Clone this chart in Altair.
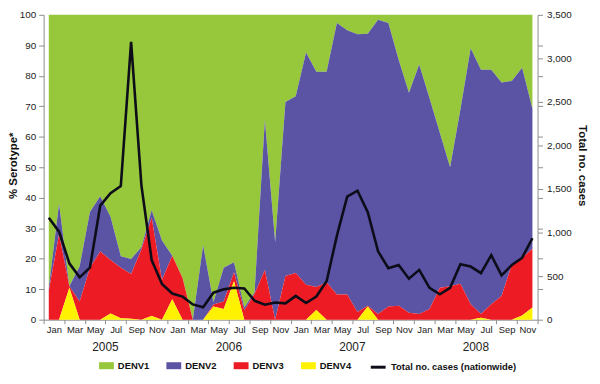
import altair as alt
import pandas as pd

months = ['Jan', 'Feb', 'Mar', 'Apr', 'May', 'Jun', 'Jul', 'Aug', 'Sep', 'Oct', 'Nov', 'Dec']
years = ['2005', '2006', '2007', '2008']
serotypes = ['DENV1', 'DENV2', 'DENV3', 'DENV4']
sero_colors = ['#97C83C', '#5B53A3', '#ED1C24', '#FFF200']
line_name = 'Total no. cases (nationwide)'

# % of serotyped samples per month, Jan 2005 .. Dec 2008
denv4 = [0, 0, 10.5, 0, 0, 0, 2, 0.5, 0.3, 0, 1.2, 0,
         6.7, 0, 0, 0, 4.3, 3.5, 12.6, 0, 0, 0, 0, 0,
         0, 0, 3.2, 0, 0, 0, 0, 4.3, 0, 0, 0, 0,
         0, 0, 0, 0, 0, 0, 0.6, 0, 0, 0, 1.4, 4]
denv3 = [9.5, 28, 0.5, 6, 17, 22.4, 17.6, 16.5, 14.7, 23, 32.2, 13,
         14.3, 13.7, 0, 0, 0.7, 2.5, 3, 3, 8.5, 16.3, 0, 14.3,
         15.3, 11.5, 7.5, 12.3, 8.3, 8.3, 2.5, 0.3, 1.9, 4.3, 4.6, 2.3,
         1.9, 3.5, 10.5, 11, 11.8, 5.1, 1.3, 5.1, 7.8, 18, 18.9, 19.3]
denv2 = [1, 10, 0, 11.5, 18.3, 18.1, 14.2, 3.8, 4.9, 0.8, 2.5, 13,
         0, 0, 0, 24.4, 0.7, 11, 3.2, 1, 0.5, 49.2, 25.4, 57.1,
         58, 76.1, 70.6, 69, 89, 86.6, 91.1, 89.2, 96.5, 93, 80.7, 72.1,
         81.8, 69.1, 50.8, 39, 57.1, 83.9, 80.1, 76.9, 70, 60.3, 62.3, 45.9]
denv1 = [89.5, 62, 89, 82.5, 64.7, 59.5, 66.2, 79.2, 80.1, 76.2, 64.1, 74,
         79, 86.3, 100, 75.6, 94.3, 83, 81.2, 96, 91, 34.5, 74.6, 28.6,
         26.7, 12.4, 18.7, 18.7, 2.7, 5.1, 6.4, 6.2, 1.6, 2.7, 14.7, 25.6,
         16.3, 27.4, 38.7, 50, 31.1, 11, 18, 18, 22.2, 21.7, 17.4, 30.8]
total_cases = [1170, 1010, 647, 486, 598, 1309, 1451, 1533, 3190, 1545, 684, 410,
               300, 265, 175, 142, 310, 348, 366, 359, 217, 172, 198, 187,
               273, 191, 266, 441, 965, 1413, 1481, 1234, 785, 591, 628, 471,
               572, 366, 292, 366, 636, 610, 535, 740, 509, 628, 711, 935]

series = {'DENV1': denv1, 'DENV2': denv2, 'DENV3': denv3, 'DENV4': denv4}
stack_rank = {'DENV4': 0, 'DENV3': 1, 'DENV2': 2, 'DENV1': 3}

rows = []
for name, vals in series.items():
    for i, v in enumerate(vals):
        rows.append({'t': i, 'serotype': name, 'pct': v, 'rank': stack_rank[name]})
area_df = pd.DataFrame(rows)

line_df = pd.DataFrame({'t': list(range(len(total_cases))), 'cases': total_cases,
                        'series': [line_name] * len(total_cases)})

year_df = pd.DataFrame({'year': years, 't': [12 * k + 5.5 for k in range(len(years))]})

FONT = 'Liberation Sans'
W, H = 499, 308

month_arr = '[' + ','.join("'%s'" % m for m in months) + ']'
x_axis = alt.Axis(
    values=[-0.5 + j for j in range(49)],
    labelExpr="(datum.value + 0.5) % 2 == 1 ? " + month_arr + "[floor(datum.value) % 12] : ''",
    tickOpacity={'condition': {'test': '(datum.value + 0.5) % 2 == 1', 'value': 0}, 'value': 1},
    tickSize=4, labelPadding=1, labelFontSize=9.5, labelColor='#222222',
    domainColor='#8c8c8c', tickColor='#8c8c8c', grid=False, title='',
    labelOverlap=False, labelFlush=False, labelBound=False,
)
x_scale = alt.Scale(domain=[-0.5, 47.5], nice=False, zero=False)
x_enc = alt.X('t:Q', scale=x_scale, axis=x_axis)

area = alt.Chart(area_df).mark_area(opacity=1, interpolate='linear').encode(
    x=x_enc,
    y=alt.Y('pct:Q', stack='zero', scale=alt.Scale(domain=[0, 100], nice=False),
            axis=alt.Axis(values=list(range(0, 101, 10)), title='% Serotype*',
                          titleFontSize=11.5, titleFontWeight='bold', titleColor='#111111',
                          titleAngle=270, titleX=-30, titleY=152, titleBaseline='middle',
                          titleAlign='center',
                          tickSize=5, labelPadding=3, labelFontSize=10, labelColor='#222222',
                          domainColor='#8c8c8c', tickColor='#8c8c8c', grid=False)),
    color=alt.Color('serotype:N', scale=alt.Scale(domain=serotypes, range=sero_colors),
                    legend=alt.Legend(title=None, orient='none', legendX=56, legendY=347,
                                      direction='horizontal', columns=4,
                                      symbolType='M-1,-0.47L1,-0.47L1,0.47L-1,0.47Z',
                                      symbolSize=225, symbolStrokeWidth=0, symbolOpacity=1,
                                      labelFontSize=9.5, labelFontWeight='bold',
                                      labelColor='#111111', labelOffset=4,
                                      columnPadding=17, padding=0)),
    order=alt.Order('rank:Q', sort='ascending'),
)

line = alt.Chart(line_df).mark_line(strokeWidth=2.6).encode(
    x=x_enc,
    y=alt.Y('cases:Q', scale=alt.Scale(domain=[0, 3500], nice=False),
            axis=alt.Axis(orient='right',
                          values=sorted(set(list(range(0, 3501, 500)) + list(range(0, 3501, 350)))),
                          labelExpr="datum.value % 500 == 0 ? format(datum.value, ',') : ''",
                          title='Total no. cases', titleFontSize=11.5, titleFontWeight='bold',
                          titleColor='#111111', titleAngle=90, titleX=44, titleY=152,
                          titleBaseline='middle', titleAlign='center',
                          tickSize=5, labelPadding=4, labelFontSize=10, labelColor='#222222',
                          domainColor='#8c8c8c', tickColor='#8c8c8c', grid=False)),
    stroke=alt.Stroke('series:N', scale=alt.Scale(domain=[line_name], range=['#0d0d1a']),
                      legend=alt.Legend(title=None, orient='none', legendX=329, legendY=347,
                                        symbolType='stroke', symbolSize=225,
                                        symbolStrokeWidth=3, labelFontSize=9.5,
                                        labelFontWeight='bold', labelColor='#111111',
                                        labelOffset=4, padding=0)),
)

year_text = alt.Chart(year_df).mark_text(fontSize=12, color='#222222', baseline='middle').encode(
    x=x_enc,
    y=alt.value(H + 28),
    text='year:N',
)

chart = alt.layer(area, line, year_text).resolve_scale(
    y='independent'
).properties(
    width=W, height=H,
    autosize=alt.AutoSizeParams(type='none'),
    padding={'left': 36, 'top': 5, 'right': 55, 'bottom': 55},
).configure(font=FONT).configure_view(strokeWidth=0)

chart.save('out.html', embed_options={'renderer': 'svg', 'actions': False})
